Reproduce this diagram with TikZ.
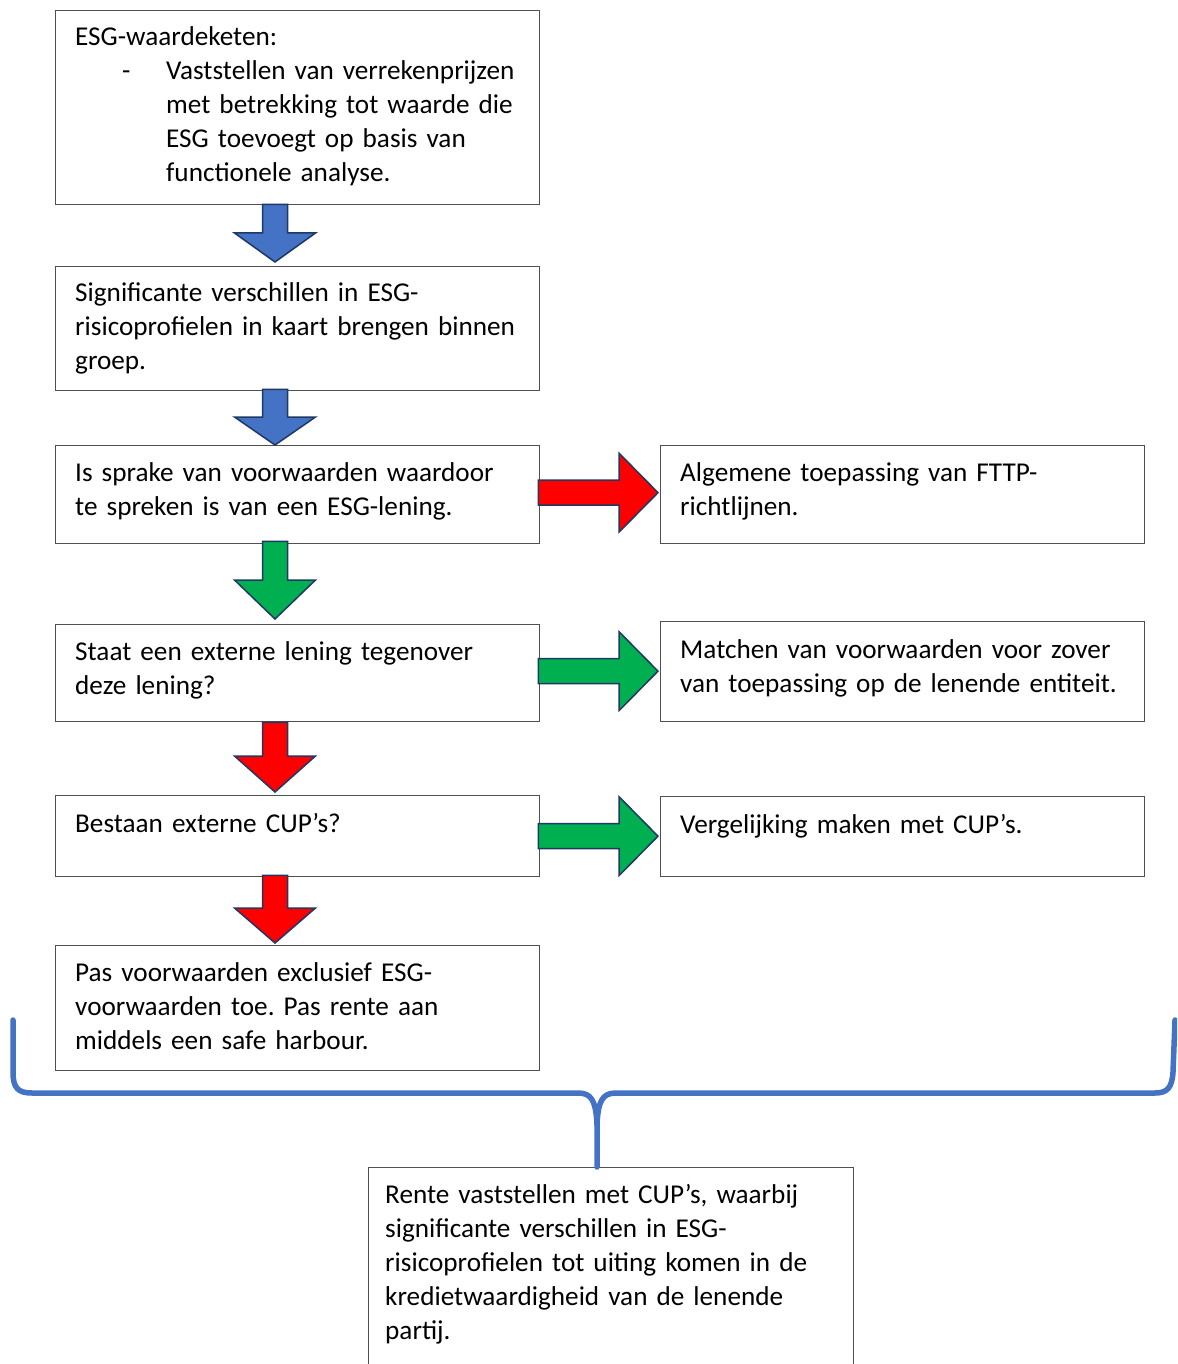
\documentclass[tikz,border=0pt]{standalone}
\usepackage{fontspec}
\setmainfont{Carlito}
\usetikzlibrary{calc}
\definecolor{boxline}{HTML}{505050}
\definecolor{arrline}{HTML}{1F3864}
\definecolor{ablue}{HTML}{4472C4}
\definecolor{ared}{HTML}{FF0000}
\definecolor{agreen}{HTML}{00B050}
\tikzset{
  box/.style={draw=boxline, line width=1.3pt, rectangle, inner sep=0pt, anchor=north west, minimum width=484pt},
  txt/.style={anchor=north west, inner sep=0pt, align=left, text width=475pt, font=\fontsize{27.2}{34}\selectfont\frenchspacing},
  blk/.style={draw=arrline, line width=1.5pt, line join=miter},
  bracestyle/.style={draw=ablue, line width=5.5pt, line cap=round, line join=round},
}
\newcommand\blockdown[4]{%
  \path[blk, fill=#1] let \p1=(#2), \p2=(#3) in
  (\x1-12.5pt,\y1) -- (\x1+12.5pt,\y1) -- (\x1+12.5pt,\y2+#4pt) -- (\x1+40.5pt,\y2+#4pt)
  -- (\x1,\y2) -- (\x1-40.5pt,\y2+#4pt) -- (\x1-12.5pt,\y2+#4pt) -- cycle;}
\newcommand\blockright[4]{%
  \path[blk, fill=#1] let \p1=(#2), \p2=(#3) in
  (\x1,\y1+12.5pt) -- (\x2-#4pt,\y1+12.5pt) -- (\x2-#4pt,\y1+39.5pt) -- (\x2,\y1)
  -- (\x2-#4pt,\y1-39.5pt) -- (\x2-#4pt,\y1-12.5pt) -- (\x1,\y1-12.5pt) -- cycle;}
\begin{document}
\begin{tikzpicture}[x=1pt,y=-1pt]
\useasboundingbox (0,0) rectangle (1177,1364);
\clip (0,0) rectangle (1177,1364);
\fill[white] (0,0) rectangle (1177,1364);
% boxes
\node[box, minimum height=194pt] (b1) at (55,10) {};
\node[box, minimum height=124pt] (b2) at (55,266) {};
\node[box, minimum height=98pt] (b3) at (55,445) {};
\node[box, minimum height=98pt] (r1) at (660,445) {};
\node[box, minimum height=97pt] (b4) at (55,624) {};
\node[box, minimum height=100pt] (r2) at (660,621) {};
\node[box, minimum height=81pt] (b5) at (55,795) {};
\node[box, minimum height=80pt] (r3) at (660,796) {};
\node[box, minimum height=125pt] (b6) at (55,945) {};
\node[box, minimum width=485pt, minimum height=230pt] (b7) at (368,1167) {};
% texts
\node[txt] (t1) at ($(b1.north west)+(20,11.5)$) {\strut ESG-waardeketen:};
\node[txt] (t1d) at ($(b1.north west)+(67,45.5)$) {\strut -};
\node[txt, text width=380pt] (t1b) at ($(b1.north west)+(111,45.5)$) {\strut Vaststellen van verrekenprijzen\\met betrekking tot waarde die\\ESG toevoegt op basis van\\functionele analyse.};
\node[txt] (t2) at ($(b2.north west)+(20,11.5)$) {\strut Significante verschillen in ESG-\\risicoprofielen in kaart brengen binnen\\groep.};
\node[txt] (t3) at ($(b3.north west)+(20,12)$) {\strut Is sprake van voorwaarden waardoor\\te spreken is van een ESG-lening.};
\node[txt] (tr1) at ($(r1.north west)+(20,12)$) {\strut Algemene toepassing van FTTP-\\richtlijnen.};
\node[txt] (t4) at ($(b4.north west)+(20,12.5)$) {\strut Staat een externe lening tegenover\\deze lening?};
\node[txt] (tr2) at ($(r2.north west)+(20,13.5)$) {\strut Matchen van voorwaarden voor zover\\van toepassing op de lenende entiteit.};
\node[txt] (t5) at ($(b5.north west)+(20,13.5)$) {\strut Bestaan externe CUP’s?};
\node[txt] (tr3) at ($(r3.north west)+(20,13.5)$) {\strut Vergelijking maken met CUP’s.};
\node[txt] (t6) at ($(b6.north west)+(20,12.5)$) {\strut Pas voorwaarden exclusief ESG-\\voorwaarden toe. Pas rente aan\\middels een safe harbour.};
\node[txt] (t7) at ($(b7.north west)+(17,12.5)$) {\strut Rente vaststellen met CUP’s, waarbij\\significante verschillen in ESG-\\risicoprofielen tot uiting komen in de\\kredietwaardigheid van de lenende\\partij.};
% down arrows
\blockdown{ablue}{$(b1.south west)+(220,-1)$}{$(b2.north west)+(220,-4)$}{29}
\blockdown{ablue}{$(b2.south west)+(220,-2)$}{$(b3.north west)+(220,0)$}{28}
\blockdown{agreen}{$(b3.south west)+(220,-3)$}{$(b4.north west)+(220,-5)$}{39}
\blockdown{ared}{$(b4.south west)+(220,0)$}{$(b5.north west)+(220,-3)$}{36}
\blockdown{ared}{$(b5.south west)+(220,-2)$}{$(b6.north west)+(220,-2)$}{35}
% right arrows
\blockright{ared}{$(b3.east)+(-2,-2)$}{$(r1.west)+(-2,0)$}{39}
\blockright{agreen}{$(b4.east)+(-2,-2)$}{$(r2.west)+(-2,0)$}{39}
\blockright{agreen}{$(b5.east)+(-2,0)$}{$(r3.west)+(-2,0)$}{39}
% brace
\coordinate (bl) at (13,1020);
\coordinate (br) at (1175,1020);
\coordinate (bt) at ($(b7.north west)+(229,0)$);
\draw[bracestyle] (bl) -- (13,1072) .. controls (13,1088) and (18,1093) .. (32,1093)
  -- (578,1093) .. controls (591,1093) and (596,1100) .. (597,1125) -- (bt);
\draw[bracestyle] (br) -- (1173,1072) .. controls (1172,1088) and (1167,1093) .. (1155,1093)
  -- (616,1093) .. controls (603,1093) and (598,1100) .. (597,1125);
\end{tikzpicture}
\end{document}
